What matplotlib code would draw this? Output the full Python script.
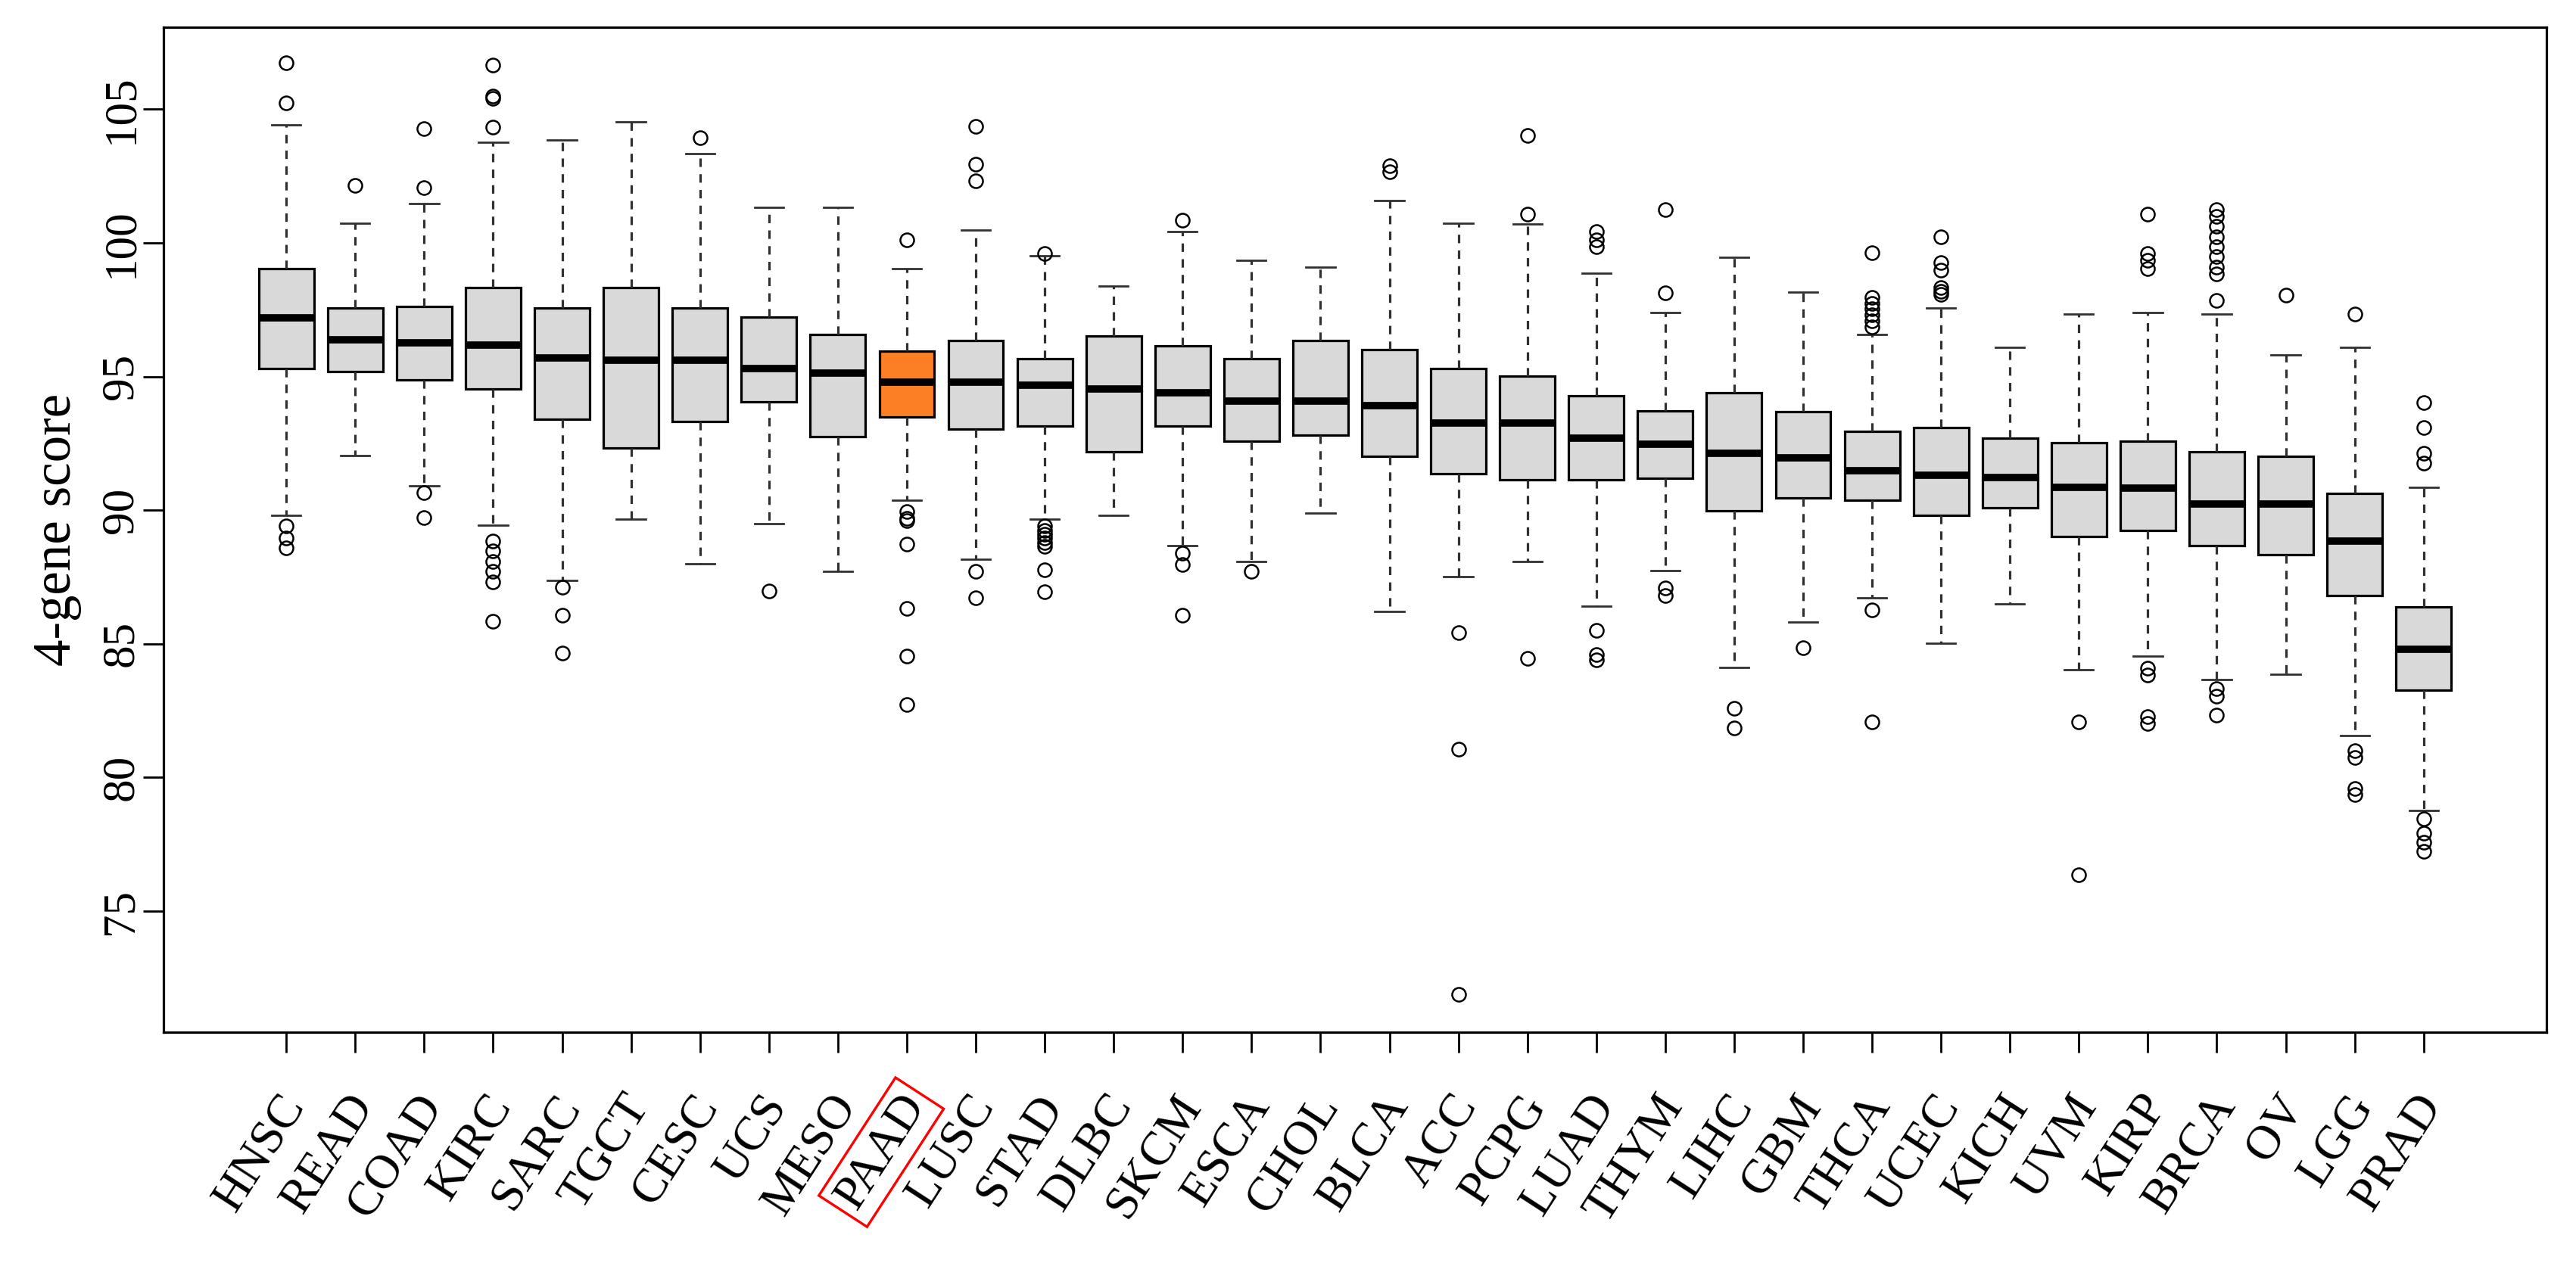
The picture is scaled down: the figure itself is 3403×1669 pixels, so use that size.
import numpy as np
import matplotlib.pyplot as plt
from matplotlib.transforms import ScaledTranslation

# ============================
# Data
# ============================
cancers = ["HNSC", "READ", "COAD", "KIRC", "SARC", "TGCT", "CESC", "UCS",
           "MESO", "PAAD", "LUSC", "STAD", "DLBC", "SKCM", "ESCA", "CHOL",
           "BLCA", "ACC", "PCPG", "LUAD", "THYM", "LIHC", "GBM", "THCA",
           "UCEC", "KICH", "UVM", "KIRP", "BRCA", "OV", "LGG", "PRAD"]

whisker_hi = [104.42, 100.75, 101.48, 103.76, 103.84, 104.52, 103.35, 101.33,
              101.33, 99.05, 100.49, 99.53, 98.39, 100.44, 99.35, 99.10,
              101.58, 100.75, 100.70, 98.87, 97.41, 99.46, 98.16, 96.59,
              97.58, 96.09, 97.33, 97.41, 97.33, 95.81, 96.09, 90.87]
q3 = [99.05, 97.56, 97.63, 98.32, 97.56, 98.32, 97.56, 97.23,
      96.59, 95.94, 96.34, 95.66, 96.52, 96.16, 95.66, 96.34,
      96.01, 95.30, 95.03, 94.29, 93.73, 94.39, 93.68, 92.95,
      93.10, 92.70, 92.52, 92.59, 92.19, 92.01, 90.62, 86.39]
median = [97.20, 96.37, 96.27, 96.19, 95.71, 95.61, 95.61, 95.30,
          95.13, 94.80, 94.80, 94.67, 94.54, 94.39, 94.09, 94.09,
          93.91, 93.25, 93.25, 92.70, 92.47, 92.14, 91.96, 91.48,
          91.30, 91.23, 90.87, 90.82, 90.24, 90.24, 88.85, 84.80]
q1 = [95.30, 95.20, 94.87, 94.54, 93.41, 92.32, 93.33, 94.06,
      92.75, 93.48, 93.03, 93.15, 92.19, 93.15, 92.59, 92.82,
      92.01, 91.38, 91.15, 91.15, 91.20, 89.99, 90.47, 90.37,
      89.81, 90.09, 89.03, 89.25, 88.67, 88.34, 86.82, 83.28]
whisker_lo = [89.81, 92.04, 90.90, 89.43, 87.38, 89.66, 88.01, 89.51,
              87.71, 90.37, 88.16, 89.66, 89.81, 88.67, 88.09, 89.89,
              86.22, 87.53, 88.09, 86.42, 87.73, 84.11, 85.81, 86.72,
              85.03, 86.49, 84.04, 84.54, 83.66, 83.86, 81.56, 78.77]
outliers = [
    [106.75, 105.25, 89.41, 88.97, 88.60],                         # HNSC
    [102.14],                                                      # READ
    [104.29, 102.06, 90.65, 89.73],                                # COAD
    [106.65, 105.50, 105.40, 104.34, 88.85, 88.47, 88.09, 87.71,
     87.33, 85.86],                                                # KIRC
    [87.13, 86.06, 84.67],                                         # SARC
    [],                                                            # TGCT
    [103.94],                                                      # CESC
    [86.97],                                                       # UCS
    [],                                                            # MESO
    [100.11, 89.94, 89.70, 89.62, 88.72, 86.32, 84.54, 82.72],     # PAAD
    [104.37, 102.95, 102.32, 87.71, 86.72],                        # LUSC
    [99.61, 89.40, 89.25, 89.10, 88.95, 88.80, 88.65, 87.76, 86.95],  # STAD
    [],                                                            # DLBC
    [100.85, 88.39, 87.96, 86.06],                                 # SKCM
    [87.71],                                                       # ESCA
    [],                                                            # CHOL
    [102.90, 102.65],                                              # BLCA
    [85.43, 81.05, 71.89],                                         # ACC
    [104.01, 101.08, 84.47],                                       # PCPG
    [100.42, 100.11, 99.86, 85.51, 84.59, 84.39],                  # LUAD
    [101.25, 98.14, 87.08, 86.82],                                 # THYM
    [82.59, 81.84],                                                # LIHC
    [84.85],                                                       # GBM
    [99.63, 97.96, 97.75, 97.55, 97.30, 97.10, 96.85, 86.27, 82.09],  # THCA
    [100.22, 99.28, 98.97, 98.34, 98.20, 98.09],                   # UCEC
    [],                                                            # KICH
    [82.09, 76.37],                                                # UVM
    [101.08, 99.61, 99.35, 99.03, 84.09, 83.84, 82.27, 82.01],     # KIRP
    [101.25, 101.00, 100.62, 100.24, 99.86, 99.48, 99.10, 98.85,
     97.84, 83.33, 83.03, 82.34],                                  # BRCA
    [98.06],                                                       # OV
    [97.33, 81.00, 80.75, 79.60, 79.35],                           # LGG
    [94.04, 93.10, 92.14, 91.76, 78.47, 77.91, 77.58, 77.25],      # PRAD
]
highlight = "PAAD"
y_ticks = [75, 80, 85, 90, 95, 100, 105]

plt.rcParams["font.family"] = ["Liberation Serif", "DejaVu Serif"]

# ============================
# Figure / axes
# ============================
fig = plt.figure(figsize=(34.03, 16.69), dpi=100)
ax = fig.add_axes([0.0635, 0.1827, 0.925, 0.7957])

stats = []
for i, name in enumerate(cancers):
    stats.append({
        "label": name,
        "med": median[i],
        "q1": q1[i],
        "q3": q3[i],
        "whislo": whisker_lo[i],
        "whishi": whisker_hi[i],
        "fliers": outliers[i],
    })

pos = np.arange(1, len(cancers) + 1)
bp = ax.bxp(
    stats, positions=pos, widths=0.8, capwidths=0.42, patch_artist=True,
    manage_ticks=False,
    boxprops=dict(facecolor="#D9D9D9", edgecolor="black", linewidth=2.3),
    medianprops=dict(color="black", linewidth=7, solid_capstyle="butt"),
    whiskerprops=dict(color="#303030", linewidth=2.3, linestyle=(0, (3.5, 3))),
    capprops=dict(color="#303030", linewidth=2.0),
    flierprops=dict(marker="o", markerfacecolor="none", markeredgecolor="black",
                    markersize=13, markeredgewidth=1.8),
)
for box, name in zip(bp["boxes"], cancers):
    if name == highlight:
        box.set_facecolor("#FC7F26")

# ============================
# Axes styling
# ============================
ax.set_xlim(-0.78, 33.78)
ax.set_ylim(70.47, 108.07)
for sp in ax.spines.values():
    sp.set_linewidth(2.3)

ax.set_yticks(y_ticks)
ax.set_yticklabels([str(t) for t in y_ticks], rotation=90, va="center")
ax.tick_params(axis="y", length=19.4, width=2.0, labelsize=44, pad=1)
ax.set_ylabel("4-gene score", fontsize=51)
ax.yaxis.set_label_coords(-0.0343, 0.5)

ax.set_xticks(pos)
ax.set_xticklabels(cancers, rotation=57, ha="right", va="center",
                   rotation_mode="anchor")
ax.tick_params(axis="x", length=19.4, width=2.0, labelsize=46, pad=44)
shift = ScaledTranslation(0.12, 0, fig.dpi_scale_trans)
for lbl in ax.get_xticklabels():
    lbl.set_transform(lbl.get_transform() + shift)
    if lbl.get_text() == highlight:
        lbl.set_bbox(dict(boxstyle="square,pad=0.14", facecolor="none",
                          edgecolor="red", linewidth=2.4))

fig.savefig("out.png", dpi=100)
print("Saved: out.png")
